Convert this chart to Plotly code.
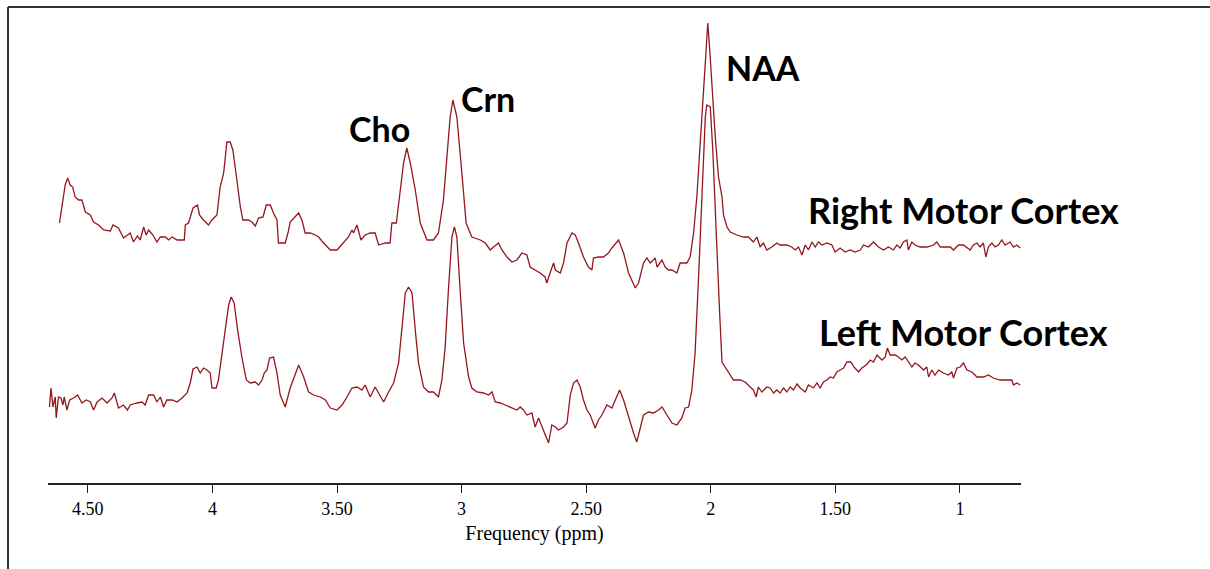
import plotly.graph_objects as go

# Chemical shift (ppm) and signal intensity (arbitrary units)
ppm_right = [4.614,4.604,4.591,4.581,4.571,4.561,4.551,4.537,4.524,4.510,
 4.490,4.477,4.457,4.437,4.410,4.399,4.377,4.357,4.341,4.330,
 4.317,4.301,4.290,4.276,4.266,4.256,4.239,4.223,4.209,4.189,
 4.176,4.162,4.142,4.113,4.109,4.096,4.078,4.060,4.052,4.036,
 4.016,4.002,3.982,3.969,3.955,3.942,3.929,3.918,3.902,3.888,
 3.878,3.855,3.842,3.828,3.815,3.797,3.784,3.768,3.755,3.741,
 3.735,3.708,3.696,3.688,3.654,3.641,3.628,3.608,3.587,3.574,
 3.554,3.527,3.500,3.474,3.454,3.440,3.434,3.420,3.404,3.387,
 3.367,3.347,3.333,3.307,3.287,3.280,3.262,3.246,3.233,3.220,
 3.206,3.186,3.166,3.139,3.113,3.093,3.073,3.059,3.046,3.035,
 3.019,2.999,2.982,2.959,2.945,2.925,2.905,2.885,2.872,2.852,
 2.838,2.818,2.798,2.778,2.758,2.738,2.725,2.705,2.685,2.665,
 2.658,2.645,2.631,2.624,2.604,2.591,2.577,2.557,2.544,2.531,
 2.511,2.491,2.477,2.471,2.451,2.431,2.411,2.397,2.370,2.350,
 2.330,2.303,2.290,2.270,2.256,2.243,2.223,2.216,2.196,2.183,
 2.170,2.156,2.136,2.123,2.096,2.083,2.069,2.056,2.043,2.029,
 2.018,2.012,2.005,1.996,1.982,1.969,1.955,1.949,1.935,1.922,
 1.895,1.869,1.849,1.829,1.815,1.802,1.789,1.775,1.755,1.735,
 1.722,1.695,1.675,1.661,1.648,1.634,1.621,1.608,1.594,1.581,
 1.568,1.554,1.534,1.514,1.501,1.481,1.461,1.441,1.421,1.400,
 1.387,1.367,1.347,1.327,1.307,1.287,1.267,1.253,1.240,1.227,
 1.213,1.207,1.193,1.180,1.160,1.133,1.106,1.093,1.079,1.059,
 1.039,1.026,1.006,0.986,0.972,0.959,0.946,0.932,0.919,0.906,
 0.896,0.886,0.872,0.859,0.846,0.832,0.819,0.799,0.785,0.772,0.758]

int_right = [260,276,298,305,298,296,286,283,283,271,
 268,261,258,253,252,258,255,245,248,250,
 241,247,243,256,248,253,248,241,246,246,
 243,246,243,243,258,260,275,278,268,263,
 258,263,268,296,310,341,341,333,303,276,
 263,263,261,257,265,266,278,278,270,263,
 240,240,251,261,270,263,250,250,248,246,
 240,233,233,241,246,253,250,258,243,248,
 250,250,238,240,240,260,260,293,320,335,
 320,293,260,243,243,250,283,326,366,383,
 366,310,260,246,245,243,240,233,236,240,
 233,226,221,223,230,228,216,213,210,206,
 200,210,220,213,210,220,240,250,248,240,
 226,216,213,225,226,226,230,235,243,230,
 210,195,200,220,225,220,225,216,223,216,
 213,213,210,220,220,226,250,286,340,393,
 436,460,436,396,346,306,286,268,256,251,
 248,246,246,241,246,236,240,233,236,240,
 238,238,236,233,236,228,238,233,241,236,
 241,238,240,238,231,235,231,233,231,233,
 238,236,241,236,233,236,233,238,235,241,
 243,233,241,238,236,236,238,241,236,236,
 236,233,238,238,235,233,238,240,236,240,
 226,236,240,236,238,243,238,241,236,238,235]

ppm_left = [4.654,4.648,4.640,4.631,4.627,4.618,4.608,4.600,4.595,4.584,
 4.573,4.557,4.541,4.524,4.506,4.490,4.477,4.463,4.443,4.423,
 4.403,4.394,4.377,4.357,4.341,4.330,4.303,4.283,4.270,4.256,
 4.236,4.223,4.209,4.196,4.183,4.162,4.142,4.122,4.102,4.089,
 4.078,4.062,4.049,4.036,4.022,4.009,4.002,3.985,3.976,3.962,
 3.949,3.935,3.925,3.913,3.899,3.882,3.864,3.848,3.828,3.815,
 3.801,3.792,3.781,3.771,3.755,3.741,3.728,3.708,3.688,3.654,
 3.634,3.614,3.594,3.567,3.547,3.527,3.500,3.480,3.460,3.440,
 3.420,3.400,3.387,3.367,3.347,3.333,3.313,3.293,3.273,3.253,
 3.240,3.226,3.213,3.199,3.186,3.173,3.153,3.133,3.113,3.093,
 3.079,3.066,3.053,3.039,3.029,3.019,3.006,2.992,2.972,2.959,
 2.939,2.912,2.892,2.878,2.865,2.845,2.825,2.805,2.778,2.765,
 2.752,2.738,2.718,2.705,2.691,2.685,2.671,2.651,2.638,2.624,
 2.611,2.591,2.577,2.564,2.551,2.537,2.524,2.511,2.497,2.484,
 2.464,2.451,2.437,2.417,2.397,2.384,2.366,2.350,2.330,2.310,
 2.297,2.283,2.270,2.250,2.230,2.210,2.196,2.176,2.156,2.136,
 2.116,2.103,2.089,2.076,2.063,2.049,2.036,2.022,2.016,2.002,
 1.992,1.978,1.965,1.955,1.942,1.922,1.909,1.882,1.862,1.842,
 1.829,1.818,1.809,1.795,1.775,1.762,1.748,1.735,1.722,1.708,
 1.695,1.681,1.668,1.654,1.641,1.621,1.608,1.588,1.574,1.561,
 1.548,1.534,1.521,1.508,1.494,1.481,1.467,1.454,1.438,1.425,
 1.407,1.394,1.376,1.360,1.347,1.333,1.313,1.300,1.291,1.280,
 1.260,1.247,1.233,1.220,1.207,1.193,1.180,1.167,1.146,1.133,
 1.126,1.113,1.100,1.086,1.066,1.046,1.033,1.026,1.012,0.999,
 0.986,0.972,0.952,0.932,0.906,0.886,0.866,0.839,0.812,0.792,0.785,0.772,0.758]

int_left = [76,95,76,86,65,86,85,78,86,73,
 83,85,88,80,83,81,73,81,85,80,
 85,90,75,78,73,78,80,81,78,88,
 88,81,86,76,83,83,81,85,90,100,
 114,116,110,115,113,110,95,95,103,130,
 156,178,186,180,153,126,103,100,101,98,
 103,110,113,125,126,110,88,76,95,118,
 106,91,88,86,83,75,73,78,86,95,
 96,93,98,86,96,90,81,91,100,120,
 153,190,196,190,153,120,96,91,91,86,
 103,136,193,246,256,246,193,140,106,95,
 91,90,88,91,81,80,78,76,73,76,
 73,68,70,56,65,61,53,40,58,56,
 53,56,60,88,100,103,96,83,73,68,
 55,63,68,78,75,83,93,83,66,50,
 41,56,68,71,70,73,76,68,60,58,
 65,75,76,93,130,206,290,366,378,376,
 333,240,173,121,116,108,103,103,101,96,
 93,86,96,91,96,95,90,93,90,95,
 91,96,93,99,95,91,98,95,100,95,
 101,103,106,105,111,113,115,121,121,116,
 111,115,118,123,121,128,123,126,135,128,
 128,126,123,126,121,116,120,118,113,116,
 106,113,108,113,110,108,111,105,115,116,
 120,113,111,106,106,108,105,103,103,103,98,100,98]

tick_vals = [4.5, 4, 3.5, 3, 2.5, 2, 1.5, 1]
tick_text = ["4.50", "4", "3.50", "3", "2.50", "2", "1.50", "1"]

peak_labels = ["NAA", "Crn", "Cho"]
peak_label_ppm = [1.790, 2.894, 3.331]
peak_label_int = [416, 385, 355]
series_labels = ["Right Motor Cortex", "Left Motor Cortex"]
series_label_ppm = [0.987, 0.987]
series_label_int = [273, 151]

assert len(ppm_right) == len(int_right), (len(ppm_right), len(int_right))
assert len(ppm_left) == len(int_left), (len(ppm_left), len(int_left))

LINE = "#94161f"
fig = go.Figure()
fig.add_trace(go.Scatter(x=ppm_right, y=int_right, mode="lines",
                         line=dict(color=LINE, width=1.3), name=series_labels[0]))
fig.add_trace(go.Scatter(x=ppm_left, y=int_left, mode="lines",
                         line=dict(color=LINE, width=1.3), name=series_labels[1]))

for t, x, y in zip(peak_labels, peak_label_ppm, peak_label_int):
    fig.add_annotation(x=x, y=y, text="<b>%s</b>" % t, showarrow=False,
                       xanchor="center", yanchor="middle",
                       font=dict(family="Lato, Open Sans, sans-serif", size=34, color="black"))
for t, x, y in zip(series_labels, series_label_ppm, series_label_int):
    fig.add_annotation(x=x, y=y, text="<b>%s</b>" % t, showarrow=False,
                       xanchor="center", yanchor="middle",
                       font=dict(family="Lato, Open Sans, sans-serif", size=36, color="black"))

# frame lines (top and left) of the figure
fig.add_shape(type="line", xref="paper", yref="paper", x0=-0.0411, x1=1.2,
              y0=1.0, y1=1.0, line=dict(color="#333333", width=2))
fig.add_shape(type="line", xref="paper", yref="paper", x0=-0.0411, x1=-0.0411,
              y0=-0.2, y1=1.0, line=dict(color="#333333", width=2))

fig.update_layout(
    width=1210, height=569,
    margin=dict(l=48, r=189, t=7, b=86),
    paper_bgcolor="white", plot_bgcolor="white",
    showlegend=False,
    xaxis=dict(range=[4.66, 0.755], showgrid=False, zeroline=False,
               showline=True, linecolor="#222222", linewidth=2,
               ticks="outside", ticklen=8, tickwidth=1, tickcolor="#222222",
               tickvals=tick_vals, ticktext=tick_text,
               tickfont=dict(family="Liberation Serif", size=18, color="black"),
               title=dict(text="Frequency (ppm)", standoff=8,
                          font=dict(family="Liberation Serif", size=20, color="black"))),
    yaxis=dict(range=[0, 476], visible=False),
)

fig.write_html("out.html", config={"displayModeBar": False},
               post_script="document.body.style.margin='0';")
